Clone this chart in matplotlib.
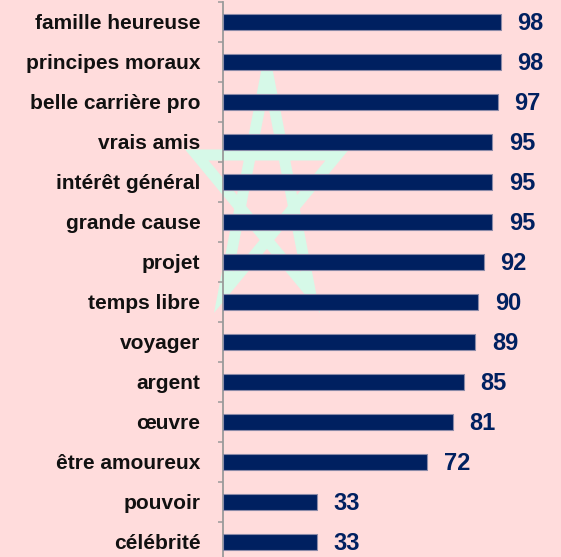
import numpy as np
import matplotlib
matplotlib.use("Agg")
import matplotlib.pyplot as plt
from matplotlib.lines import Line2D

categories = ["famille heureuse", "principes moraux", "belle carrière pro", "vrais amis",
              "intérêt général", "grande cause", "projet", "temps libre", "voyager",
              "argent", "œuvre", "être amoureux", "pouvoir", "célébrité"]
values = [98, 98, 97, 95, 95, 95, 92, 90, 89, 85, 81, 72, 33, 33]

BG = "#ffdcdc"
NAVY = "#002060"
STAR = "#d6f9e8"

plt.rcParams["font.family"] = ["Liberation Sans", "DejaVu Sans"]
plt.rcParams["font.weight"] = "bold"

W, H = 561, 557
fig = plt.figure(figsize=(W / 100, H / 100), dpi=100, facecolor=BG)

# background pentagram watermark (figure pixel coords -> fraction)
cx, cy, R, sx = 267, 557 - 193, 123, 0.6
ang = np.deg2rad(90 + 144 * np.arange(6))
px = cx + sx * R * np.cos(ang)
py = cy + R * np.sin(ang)
star = Line2D(px / W, py / H, transform=fig.transFigure, color=STAR, lw=8,
              solid_joinstyle="miter", zorder=-1)
fig.add_artist(star)

left = 223.3 / W
top = (557 - 1.7) / H
bottom = (557 - 561.7) / H
ax = fig.add_axes([left, bottom, 1 - left, top - bottom])
ax.set_facecolor("none")

y = np.arange(len(categories))
ax.barh(y, values, height=0.4, color=NAVY, edgecolor="#8a8aa8", linewidth=0.8, zorder=3)
for yi, v in zip(y, values):
    ax.annotate(str(v), (v, yi), xytext=(12, -1.5), textcoords="offset points",
                ha="left", va="center", fontsize=17, fontweight="bold", color=NAVY)

ax.set_xlim(0, 119.3)
ax.set_ylim(len(categories) - 0.5, -0.5)
ax.set_yticks(y)
ax.set_yticklabels(categories, fontsize=15, fontweight="bold", color="#111111")
ax.tick_params(axis="y", which="major", length=0, pad=16.5)
ax.set_yticks(np.arange(len(categories) + 1) - 0.5, minor=True)
ax.tick_params(axis="y", which="minor", length=3.6, width=1.1, color="#9a9a9a", direction="out")
ax.set_xticks([])
for s in ["top", "right", "bottom"]:
    ax.spines[s].set_visible(False)
ax.spines["left"].set_color("#9a9a9a")
ax.spines["left"].set_linewidth(1.3)

fig.savefig("out.png", dpi=100, facecolor=BG)
